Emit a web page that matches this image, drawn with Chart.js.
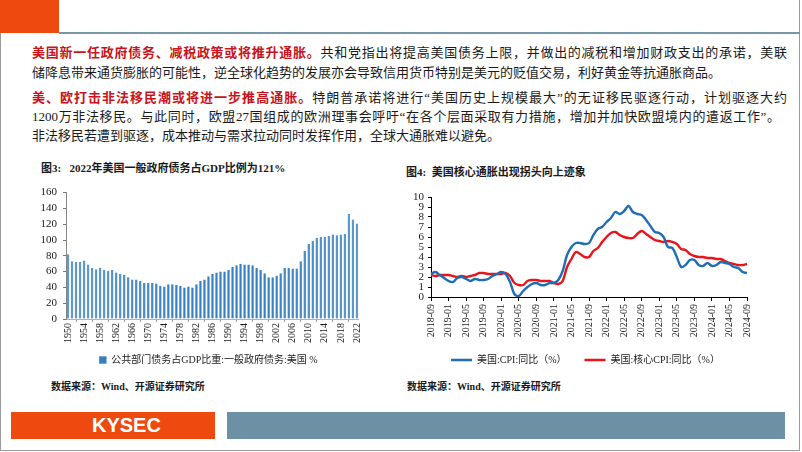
<!DOCTYPE html>
<html><head><meta charset="utf-8">
<script src="https://cdn.jsdelivr.net/npm/chart.js@4/dist/chart.umd.min.js"></script>
<style>
html,body{margin:0;padding:0;background:#fff;}
#page{position:relative;width:802px;height:452px;overflow:hidden;background:#fff;font-family:'Liberation Serif','Noto Sans CJK SC',serif;color:#1a1a1a;}
.frame{position:absolute;left:0;top:0;width:798px;height:450px;border-left:1px solid #9a9a9a;border-right:1px solid #9a9a9a;border-bottom:1px solid #9a9a9a;}
.topbox{position:absolute;left:0;top:0;width:59px;height:33px;background:#ee4a10;}
.topline{position:absolute;left:59px;top:32px;width:741px;height:2px;background:#7896aa;}
.ln{position:absolute;left:32px;height:20px;line-height:20px;font-size:13px;white-space:nowrap;}
.j{width:755px;text-align:justify;text-align-last:justify;}
.red{color:#c8141c;font-weight:bold;}
.title{position:absolute;font-size:11px;font-weight:bold;white-space:nowrap;line-height:14px;}
.src{position:absolute;font-size:10px;font-weight:bold;white-space:nowrap;line-height:14px;}
.fbox{position:absolute;left:11px;top:412px;width:204px;height:27px;background:#ee4a10;}
.fbox span{position:absolute;left:81px;top:0;line-height:27px;font-family:'Liberation Sans',Arial,sans-serif;font-weight:bold;font-size:20px;color:#fff;letter-spacing:0px;}
.gbox{position:absolute;left:227px;top:412px;width:558px;height:27px;background:#6e90a4;}
canvas{position:absolute;}
</style></head>
<body><div id="page">
<div class="frame"></div>
<div class="topbox"></div><div class="topline"></div>
<div class="ln j" style="top:43px;"><span class="red">美国新一任政府债务、减税政策或将推升通胀。</span>共和党指出将提高美国债务上限，并做出的减税和增加财政支出的承诺，美联</div>
<div class="ln" style="top:63px;">储降息带来通货膨胀的可能性，逆全球化趋势的发展亦会导致信用货币特别是美元的贬值交易，利好黄金等抗通胀商品。</div>
<div class="ln j" style="top:88px;"><span class="red">美、欧打击非法移民潮或将进一步推高通胀。</span>特朗普承诺将进行“美国历史上规模最大”的无证移民驱逐行动，计划驱逐大约</div>
<div class="ln j" style="top:107px;width:748px;">1200万非法移民。与此同时，欧盟27国组成的欧洲理事会呼吁“在各个层面采取有力措施，增加并加快欧盟境内的遣返工作”。</div>
<div class="ln" style="top:126px;">非法移民若遭到驱逐，成本推动与需求拉动同时发挥作用，全球大通胀难以避免。</div>

<div class="title" style="left:41px;top:161px;">图3:&nbsp;&nbsp;&nbsp;2022年美国一般政府债务占GDP比例为121%</div>
<div class="title" style="left:406px;top:165px;">图4:&nbsp;&nbsp;美国核心通胀出现拐头向上迹象</div>

<canvas id="c1" width="340" height="200" style="left:30px;top:180px;width:340px;height:200px;"></canvas>
<canvas id="c2" width="380" height="195" style="left:400px;top:185px;width:380px;height:195px;"></canvas>

<div class="src" style="left:51px;top:380px;">数据来源：Wind、开源证券研究所</div>
<div class="src" style="left:407px;top:380px;">数据来源：Wind、开源证券研究所</div>

<div class="fbox"><span>KYSEC</span></div>
<div class="gbox"></div>
</div>
<script>
// ---- Data ----
const years = ['1950','1951','1952','1953','1954','1955','1956','1957','1958','1959',
 '1960','1961','1962','1963','1964','1965','1966','1967','1968','1969',
 '1970','1971','1972','1973','1974','1975','1976','1977','1978','1979',
 '1980','1981','1982','1983','1984','1985','1986','1987','1988','1989',
 '1990','1991','1992','1993','1994','1995','1996','1997','1998','1999',
 '2000','2001','2002','2003','2004','2005','2006','2007','2008','2009',
 '2010','2011','2012','2013','2014','2015','2016','2017','2018','2019',
 '2020','2021','2022'];
const debtRatio = [82,73,72,72,74,69,65,63,65,62,
 61,62,59,57,56,53,50,50,48,46,
 46,46,45,42,41,44,44,43,42,40,
 41,40,44,48,50,54,57,59,60,60,
 62,66,68,70,69,69,68,65,62,58,
 53,53,55,58,65,65,64,64,73,86,
 95,99,103,104,104,105,107,106,107,108,
 133,126,121];
const debtLabel = '公共部门债务占GDP比重:一般政府债务:美国 %';

const months = ['2018-09','2018-10','2018-11','2018-12',
 '2019-01','2019-02','2019-03','2019-04','2019-05','2019-06','2019-07','2019-08','2019-09','2019-10','2019-11','2019-12',
 '2020-01','2020-02','2020-03','2020-04','2020-05','2020-06','2020-07','2020-08','2020-09','2020-10','2020-11','2020-12',
 '2021-01','2021-02','2021-03','2021-04','2021-05','2021-06','2021-07','2021-08','2021-09','2021-10','2021-11','2021-12',
 '2022-01','2022-02','2022-03','2022-04','2022-05','2022-06','2022-07','2022-08','2022-09','2022-10','2022-11','2022-12',
 '2023-01','2023-02','2023-03','2023-04','2023-05','2023-06','2023-07','2023-08','2023-09','2023-10','2023-11','2023-12',
 '2024-01','2024-02','2024-03','2024-04','2024-05','2024-06','2024-07','2024-08','2024-09'];
const cpi = [2.3,2.5,2.2,1.9,
 1.6,1.5,1.9,2.0,1.8,1.6,1.8,1.7,1.7,1.8,2.1,2.3,
 2.5,2.3,1.5,0.3,0.1,0.6,1.0,1.3,1.4,1.2,1.2,1.4,
 1.4,1.7,2.6,4.2,5.0,5.4,5.4,5.3,5.4,6.2,6.8,7.0,
 7.5,7.9,8.5,8.3,8.6,9.1,8.5,8.3,8.2,7.7,7.1,6.5,
 6.4,6.0,5.0,4.9,4.0,3.0,3.2,3.7,3.7,3.2,3.1,3.4,
 3.1,3.2,3.5,3.4,3.3,3.0,2.9,2.5,2.4];
const coreCpi = [2.2,2.1,2.2,2.2,
 2.2,2.1,2.0,2.1,2.0,2.1,2.2,2.4,2.4,2.3,2.3,2.3,
 2.3,2.4,2.1,1.4,1.2,1.2,1.6,1.7,1.7,1.6,1.6,1.6,
 1.4,1.3,1.6,3.0,3.8,4.5,4.3,4.0,4.0,4.6,4.9,5.5,
 6.0,6.4,6.5,6.2,6.0,5.9,5.9,6.3,6.6,6.3,6.0,5.7,
 5.6,5.5,5.6,5.5,5.3,4.8,4.7,4.3,4.1,4.0,4.0,3.9,
 3.9,3.8,3.8,3.6,3.4,3.3,3.2,3.2,3.3];
const cpiLabel = '美国:CPI:同比（%）';
const coreLabel = '美国:核心CPI:同比（%）';

// ---- Charts ----
Chart.defaults.font.family = "'Liberation Serif','Noto Sans CJK SC',serif";
Chart.defaults.font.size = 11;
Chart.defaults.color = '#1a1a1a';
Chart.defaults.animation = false;

function legendShift(dx) {
  return { id: 'legendShift', afterLayout: function(chart) {
    if (chart.legend) { chart.legend.left += dx; chart.legend.right += dx; }
  } };
}

new Chart(document.getElementById('c1'), {
  type: 'bar',
  data: { labels: years, datasets: [{ label: debtLabel, data: debtRatio,
    backgroundColor: '#3580c0', borderColor: '#1d5f9c', borderWidth: {left:0.6,right:0.6,top:0,bottom:0},
    barPercentage: 0.62, categoryPercentage: 1.0 }] },
  plugins: [legendShift(13)],
  options: {
    responsive: false, maintainAspectRatio: false,
    layout: { padding: { top: 10, right: 9, bottom: 5, left: 0 } },
    plugins: {
      legend: { position: 'bottom', labels: { boxWidth: 7, boxHeight: 7, padding: 10, font: { size: 10 }, color: '#1a1a1a' } },
      tooltip: { enabled: false }
    },
    scales: {
      x: {
        offset: true,
        grid: { display: true, drawOnChartArea: false, tickLength: 3, color: '#999' },
        border: { display: true, color: '#9fb8d0' },
        ticks: { autoSkip: false, maxRotation: 90, minRotation: 90, padding: 1, font: { size: 10 },
          callback: function(v, i) { return (i % 4 === 0) ? years[i] : null; } },
        afterFit: function(s) { s.height = 26; }
      },
      y: {
        min: 0, max: 160,
        grid: { display: true, drawOnChartArea: false, tickLength: 3, color: '#777' },
        border: { display: true, color: '#888' },
        ticks: { stepSize: 20, autoSkip: false, padding: 6, font: { size: 11 } },
        afterFit: function(s) { s.width = 36; }
      }
    }
  }
});

new Chart(document.getElementById('c2'), {
  type: 'line',
  data: { labels: months, datasets: [
    { label: cpiLabel, data: cpi, borderColor: '#1f6db3', backgroundColor: '#1f6db3', borderWidth: 2.4, pointRadius: 0, tension: 0.35 },
    { label: coreLabel, data: coreCpi, borderColor: '#e8141b', backgroundColor: '#e8141b', borderWidth: 2.4, pointRadius: 0, tension: 0.35 }
  ] },
  plugins: [legendShift(12)],
  options: {
    responsive: false, maintainAspectRatio: false,
    layout: { padding: { top: 12, right: 33, bottom: 5, left: 0 } },
    plugins: {
      legend: { position: 'bottom', labels: { boxWidth: 21, boxHeight: 0, padding: 18, font: { size: 10 }, color: '#1a1a1a' } },
      tooltip: { enabled: false }
    },
    scales: {
      x: {
        offset: false,
        grid: { display: true, drawOnChartArea: false, tickLength: 4, color: '#000' },
        border: { display: true, color: '#000' },
        ticks: { autoSkip: false, maxRotation: 90, minRotation: 90, padding: 3, font: { size: 10 },
          callback: function(v, i) { return (i % 4 === 0) ? months[i] : null; } },
        afterFit: function(s) { s.height = 40; }
      },
      y: {
        min: 0, max: 10,
        grid: { display: true, drawOnChartArea: false, tickLength: 3, color: '#000' },
        border: { display: true, color: '#000' },
        ticks: { stepSize: 1, autoSkip: false, padding: 4, font: { size: 11 } },
        afterFit: function(s) { s.width = 31; }
      }
    }
  }
});
</script>
</body></html>
